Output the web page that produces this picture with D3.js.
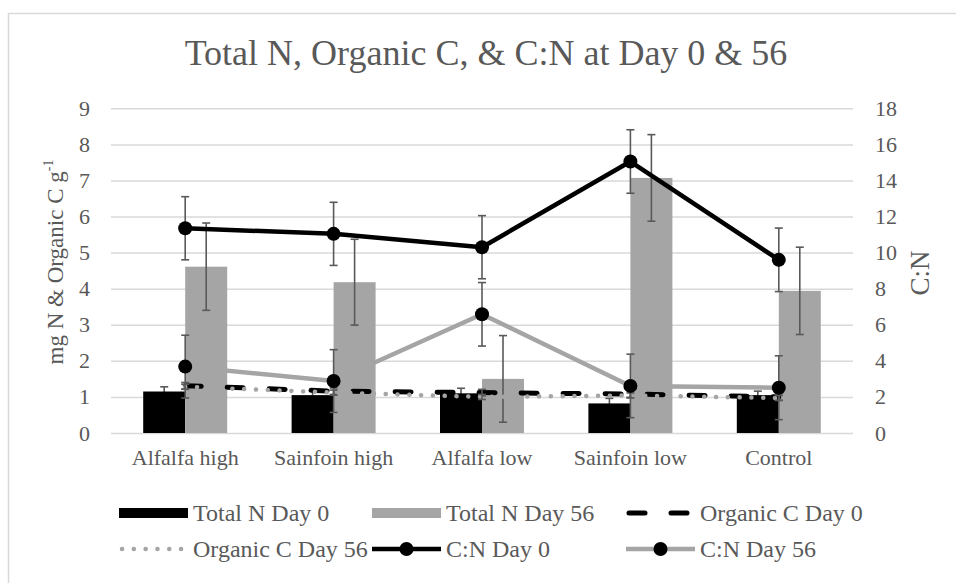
<!DOCTYPE html>
<html>
<head>
<meta charset="utf-8">
<script src="https://cdn.jsdelivr.net/npm/d3@7"></script>
<style>
  html, body { margin: 0; padding: 0; background: #fff; }
  svg { display: block; }
</style>
</head>
<body>
<svg id="chart" width="956" height="583"></svg>
<script>
const categories = ["Alfalfa high", "Sainfoin high", "Alfalfa low", "Sainfoin low", "Control"];
const totalN0 = [1.15, 1.05, 1.10, 0.82, 1.05];
const totalN0Err = [0.13, 0.12, 0.14, 0.14, 0.11];
const totalN56 = [4.61, 4.18, 1.50, 7.07, 3.94];
const totalN56Err = [1.21, 1.19, 1.20, 1.20, 1.21];
const orgC0 = [1.31, 1.16, 1.12, 1.08, 1.00];
const orgC0Err = [0.09, 0.09, 0.09, 0.09, 0.09];
const orgC56 = [1.28, 1.12, 1.00, 1.04, 0.97];
const orgC56Err = [0.07, 0.07, 0.07, 0.07, 0.07];
const cn0 = [11.35, 11.04, 10.30, 15.05, 9.60];
const cn0Err = [1.75, 1.75, 1.75, 1.76, 1.76];
const cn56 = [3.68, 2.88, 6.58, 2.61, 2.51];
const cn56Err = [1.74, 1.74, 1.76, 1.76, 1.77];
const leftTicks = [0, 1, 2, 3, 4, 5, 6, 7, 8, 9];
const rightTicks = [0, 2, 4, 6, 8, 10, 12, 14, 16, 18];
const title = "Total N, Organic C, & C:N at Day 0 & 56";
const legendLabels = ["Total N Day 0", "Total N Day 56", "Organic C Day 0", "Organic C Day 56", "C:N Day 0", "C:N Day 56"];

const FONT = "'Liberation Serif', 'DejaVu Serif', serif";
const TXT = "#595959";
const GRID = "#d9d9d9";
const BLACK = "#000000";
const GRAY = "#a5a5a5";
const ERR = "#595959";

const svg = d3.select("#chart");
svg.append("rect").attr("width", 956).attr("height", 583).attr("fill", "#fff");
svg.append("rect").attr("x", 8.5).attr("y", 13.5).attr("width", 1000).attr("height", 700)
  .attr("fill", "none").attr("stroke", GRID).attr("stroke-width", 1.5);

const L = 111, R = 853, T = 108.3, B = 433;

const x = d3.scaleBand().domain(categories).range([L, R]).padding(0);
const bw = x.bandwidth();
const xs = d3.scaleBand().domain(["d0", "d56"]).range([bw * 0.217, bw * 0.783]).padding(0);
const cx = c => x(c) + bw / 2;
const yL = d3.scaleLinear().domain([0, 9]).range([B, T]);
const yR = d3.scaleLinear().domain([0, 18]).range([B, T]);

// title
svg.append("text").attr("x", 486).attr("y", 65).attr("text-anchor", "middle")
  .attr("font-family", FONT).attr("font-size", 36).attr("fill", TXT).text(title);

// grid + left axis
const gL = svg.append("g").attr("transform", `translate(${L},0)`)
  .call(d3.axisLeft(yL).tickValues(leftTicks).tickSize(-(R - L)).tickPadding(21).tickFormat(d3.format("d")));
gL.select(".domain").remove();
gL.selectAll(".tick line").attr("stroke", GRID).attr("stroke-width", 1.5);
gL.selectAll(".tick text").attr("font-family", FONT).attr("font-size", 22).attr("fill", TXT);

const gR = svg.append("g").attr("transform", `translate(${R},0)`)
  .call(d3.axisRight(yR).tickValues(rightTicks).tickSize(0).tickPadding(22).tickFormat(d3.format("d")));
gR.select(".domain").remove();
gR.selectAll(".tick text").attr("font-family", FONT).attr("font-size", 22).attr("fill", TXT);

// x axis labels
const gX = svg.append("g").attr("transform", `translate(0,${B})`)
  .call(d3.axisBottom(x).tickSize(0).tickPadding(16));
gX.select(".domain").remove();
gX.selectAll(".tick text").attr("font-family", FONT).attr("font-size", 22).attr("fill", TXT).attr("dy", "0.71em");

// axis titles
const yt = svg.append("text").attr("transform", "translate(55,262) rotate(-90)")
  .attr("text-anchor", "middle").attr("dy", "0.35em")
  .attr("font-family", FONT).attr("font-size", 23).attr("fill", TXT);
yt.append("tspan").text("mg N & Organic C g");
yt.append("tspan").attr("font-size", 14).attr("dy", "-0.7em").text("-1");
svg.append("text").attr("transform", "translate(920,273) rotate(-90)")
  .attr("text-anchor", "middle").attr("dy", "0.35em")
  .attr("font-family", FONT).attr("font-size", 27).attr("fill", TXT).text("C:N");

function errBars(g, xs_, ys_, errs, scale, cap) {
  categories.forEach((c, i) => {
    const xx = xs_(c), v = ys_[i], e = errs[i];
    const y1 = scale(v + e), y2 = scale(v - e);
    g.append("line").attr("x1", xx).attr("x2", xx).attr("y1", y1).attr("y2", y2)
      .attr("stroke", ERR).attr("stroke-width", 1.6);
    [y1, y2].forEach(yy => g.append("line").attr("x1", xx - cap).attr("x2", xx + cap)
      .attr("y1", yy).attr("y2", yy).attr("stroke", ERR).attr("stroke-width", 1.6));
  });
}

const gE0 = svg.append("g");
errBars(gE0, c => x(c) + xs("d0") + xs.bandwidth() / 2, totalN0, totalN0Err, yL, 4);

// bars
svg.append("g").selectAll("rect").data(categories).join("rect")
  .attr("x", c => x(c) + xs("d0")).attr("width", xs.bandwidth())
  .attr("y", (c, i) => yL(totalN0[i])).attr("height", (c, i) => B - yL(totalN0[i]))
  .attr("fill", BLACK);
svg.append("g").selectAll("rect").data(categories).join("rect")
  .attr("x", c => x(c) + xs("d56")).attr("width", xs.bandwidth())
  .attr("y", (c, i) => yL(totalN56[i])).attr("height", (c, i) => B - yL(totalN56[i]))
  .attr("fill", GRAY);

const gE56 = svg.append("g");
errBars(gE56, c => x(c) + xs("d56") + xs.bandwidth() / 2, totalN56, totalN56Err, yL, 4);

// lines
const lineL = d3.line().x((d, i) => cx(categories[i])).y(d => yL(d));
const lineR = d3.line().x((d, i) => cx(categories[i])).y(d => yR(d));

svg.append("path").attr("d", lineR(cn56)).attr("fill", "none").attr("stroke", GRAY)
  .attr("stroke-width", 4.5).attr("stroke-linejoin", "round");
svg.append("path").attr("d", lineR(cn0)).attr("fill", "none").attr("stroke", BLACK)
  .attr("stroke-width", 4.5).attr("stroke-linejoin", "round");

svg.append("path").attr("d", lineL(orgC0)).attr("fill", "none").attr("stroke", BLACK)
  .attr("stroke-width", 5).attr("stroke-linecap", "round").attr("stroke-dasharray", "16,26");
errBars(svg.append("g"), cx, orgC0, orgC0Err, yL, 4);
svg.append("path").attr("d", lineL(orgC56)).attr("fill", "none").attr("stroke", GRAY)
  .attr("stroke-width", 4.5).attr("stroke-linecap", "round").attr("stroke-dasharray", "0.1,11.7");
errBars(svg.append("g"), cx, orgC56, orgC56Err, yL, 4);

errBars(svg.append("g"), cx, cn0, cn0Err, yR, 4);
errBars(svg.append("g"), cx, cn56, cn56Err, yR, 4);

svg.append("g").selectAll("circle").data(cn0).join("circle")
  .attr("cx", (d, i) => cx(categories[i])).attr("cy", d => yR(d)).attr("r", 7).attr("fill", BLACK);
svg.append("g").selectAll("circle").data(cn56).join("circle")
  .attr("cx", (d, i) => cx(categories[i])).attr("cy", d => yR(d)).attr("r", 7).attr("fill", BLACK);

// legend
const colX = [193, 446, 700];
const rowY = [513, 549];
const lg = svg.append("g");
legendLabels.forEach((lab, k) => {
  const tx = colX[k % 3], ty = rowY[Math.floor(k / 3)];
  const sx0 = tx - 74, sx1 = tx - 5;
  if (k === 0 || k === 1) {
    lg.append("rect").attr("x", sx0).attr("y", ty - 5).attr("width", sx1 - sx0).attr("height", 10)
      .attr("fill", k === 0 ? BLACK : GRAY);
  } else if (k === 2) {
    lg.append("line").attr("x1", sx0 + 3).attr("x2", sx1).attr("y1", ty).attr("y2", ty)
      .attr("stroke", BLACK).attr("stroke-width", 5).attr("stroke-linecap", "round").attr("stroke-dasharray", "16,26");
  } else if (k === 3) {
    lg.append("line").attr("x1", sx0 + 3).attr("x2", sx1).attr("y1", ty).attr("y2", ty)
      .attr("stroke", GRAY).attr("stroke-width", 4.5).attr("stroke-linecap", "round").attr("stroke-dasharray", "0.1,11.7");
  } else {
    lg.append("line").attr("x1", sx0).attr("x2", sx1).attr("y1", ty).attr("y2", ty)
      .attr("stroke", k === 4 ? BLACK : GRAY).attr("stroke-width", 4.5);
    lg.append("circle").attr("cx", (sx0 + sx1) / 2).attr("cy", ty).attr("r", 7).attr("fill", BLACK);
  }
  lg.append("text").attr("x", tx).attr("y", ty).attr("dy", "0.35em")
    .attr("font-family", FONT).attr("font-size", 24).attr("fill", TXT).text(lab);
});
</script>
</body>
</html>
